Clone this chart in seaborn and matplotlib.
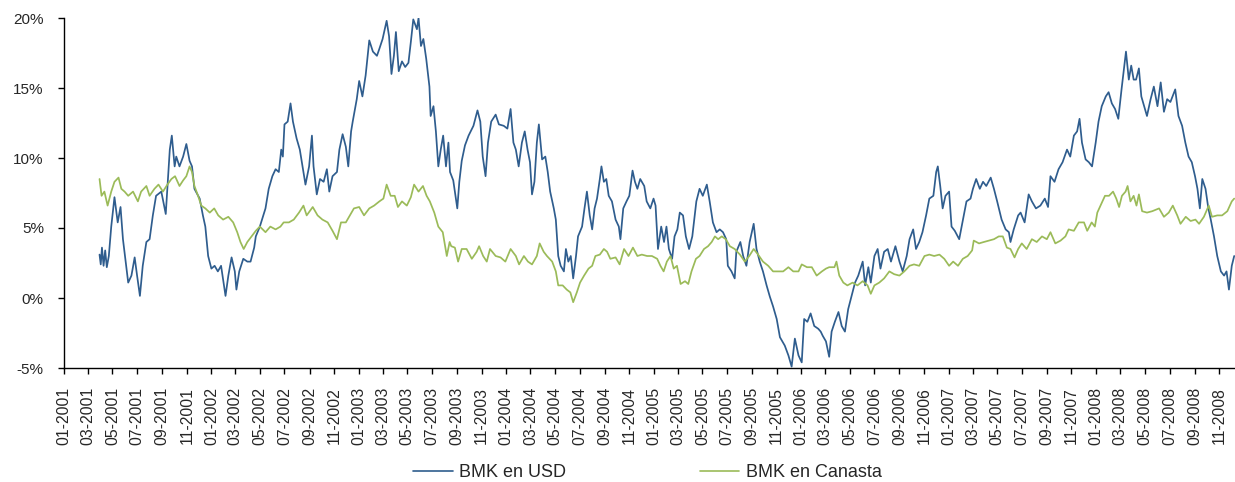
import pandas as pd
import numpy as np
import seaborn as sns
import matplotlib.pyplot as plt
import matplotlib.dates as mdates
from matplotlib.ticker import FuncFormatter

# colors
colors = {'BLUE': '#2F5D8E', 'GREEN': '#9BBB59', 'BLACK': '#000000'}

# series: (date, % value)
usd = [
    ('2001-03-30', 3.1), ('2001-04-02', 2.4), ('2001-04-05', 3.6), ('2001-04-09', 2.3),
    ('2001-04-13', 3.4), ('2001-04-17', 2.2), ('2001-04-22', 3.0), ('2001-04-28', 5.1),
    ('2001-05-06', 7.2), ('2001-05-14', 5.4), ('2001-05-21', 6.5), ('2001-05-27', 4.2),
    ('2001-06-01', 3.0), ('2001-06-09', 1.1), ('2001-06-17', 1.6), ('2001-06-25', 2.9),
    ('2001-07-01', 1.6), ('2001-07-08', 0.15), ('2001-07-15', 2.3), ('2001-07-24', 4.0),
    ('2001-08-01', 4.2), ('2001-08-09', 5.9), ('2001-08-17', 7.3), ('2001-08-30', 7.6),
    ('2001-09-10', 6.0), ('2001-09-15', 8.3), ('2001-09-20', 10.6), ('2001-09-25', 11.6),
    ('2001-10-02', 9.4), ('2001-10-06', 10.1), ('2001-10-14', 9.4), ('2001-10-23', 10.1),
    ('2001-10-31', 11.0), ('2001-11-08', 9.8), ('2001-11-14', 9.4), ('2001-11-20', 7.8),
    ('2001-12-03', 7.1), ('2001-12-11', 5.9), ('2001-12-17', 5.1), ('2001-12-24', 3.0),
    ('2002-01-01', 2.1), ('2002-01-09', 2.3), ('2002-01-17', 1.9), ('2002-01-25', 2.3),
    ('2002-02-05', 0.15), ('2002-02-12', 1.6), ('2002-02-20', 2.9), ('2002-02-28', 1.9),
    ('2002-03-04', 0.6), ('2002-03-11', 1.9), ('2002-03-21', 2.8), ('2002-03-31', 2.6),
    ('2002-04-08', 2.6), ('2002-04-17', 3.6), ('2002-04-21', 4.4), ('2002-05-01', 5.1),
    ('2002-05-15', 6.4), ('2002-05-23', 7.8), ('2002-06-01', 8.7), ('2002-06-09', 9.2),
    ('2002-06-17', 9.0), ('2002-06-23', 10.6), ('2002-06-27', 10.1), ('2002-07-01', 12.4),
    ('2002-07-09', 12.6), ('2002-07-16', 13.9), ('2002-07-22', 12.6), ('2002-07-31', 11.4),
    ('2002-08-08', 10.6), ('2002-08-17', 9.0), ('2002-08-22', 8.1), ('2002-08-31', 9.4),
    ('2002-09-07', 11.6), ('2002-09-11', 9.4), ('2002-09-19', 7.4), ('2002-09-27', 8.5),
    ('2002-10-06', 8.3), ('2002-10-14', 9.2), ('2002-10-20', 7.6), ('2002-10-28', 8.7),
    ('2002-11-08', 9.0), ('2002-11-14', 10.6), ('2002-11-22', 11.7), ('2002-11-30', 10.8),
    ('2002-12-06', 9.4), ('2002-12-13', 11.9), ('2002-12-17', 12.6), ('2002-12-27', 14.2),
    ('2003-01-02', 15.5), ('2003-01-10', 14.4), ('2003-01-18', 15.9), ('2003-01-27', 18.4),
    ('2003-02-05', 17.6), ('2003-02-15', 17.3), ('2003-02-21', 17.8), ('2003-03-01', 18.5),
    ('2003-03-11', 19.8), ('2003-03-17', 18.7), ('2003-03-23', 16.0), ('2003-03-29', 17.3),
    ('2003-04-03', 19.0), ('2003-04-10', 16.2), ('2003-04-18', 16.9), ('2003-04-26', 16.5),
    ('2003-05-04', 16.8), ('2003-05-10', 18.3), ('2003-05-16', 19.9), ('2003-05-25', 19.2),
    ('2003-05-29', 20.0), ('2003-06-04', 18.0), ('2003-06-10', 18.5), ('2003-06-17', 17.1),
    ('2003-06-25', 15.1), ('2003-06-28', 13.0), ('2003-07-05', 13.7), ('2003-07-11', 11.9),
    ('2003-07-17', 9.4), ('2003-07-23', 10.6), ('2003-07-29', 11.6), ('2003-08-05', 9.4),
    ('2003-08-11', 11.1), ('2003-08-15', 9.0), ('2003-08-23', 8.4), ('2003-09-02', 6.4),
    ('2003-09-07', 8.3), ('2003-09-13', 9.8), ('2003-09-21', 10.9), ('2003-09-30', 11.6),
    ('2003-10-12', 12.3), ('2003-10-22', 13.4), ('2003-10-29', 12.6), ('2003-11-04', 10.1),
    ('2003-11-11', 8.7), ('2003-11-17', 11.1), ('2003-11-25', 12.6), ('2003-12-06', 13.1),
    ('2003-12-14', 12.4), ('2003-12-26', 12.3), ('2004-01-04', 12.1), ('2004-01-12', 13.5),
    ('2004-01-19', 11.1), ('2004-01-25', 10.6), ('2004-02-01', 9.4), ('2004-02-09', 11.1),
    ('2004-02-16', 11.9), ('2004-02-23', 10.6), ('2004-02-29', 9.7), ('2004-03-05', 7.4),
    ('2004-03-11', 8.3), ('2004-03-17', 11.1), ('2004-03-22', 12.4), ('2004-03-30', 9.9),
    ('2004-04-07', 10.1), ('2004-04-13', 9.0), ('2004-04-19', 7.6), ('2004-04-28', 6.4),
    ('2004-05-03', 5.6), ('2004-05-09', 3.0), ('2004-05-15', 2.3), ('2004-05-23', 1.9),
    ('2004-05-28', 3.5), ('2004-06-03', 2.6), ('2004-06-09', 3.0), ('2004-06-15', 1.4),
    ('2004-06-22', 3.0), ('2004-06-27', 4.4), ('2004-07-07', 5.1), ('2004-07-13', 6.4),
    ('2004-07-19', 7.6), ('2004-07-26', 5.9), ('2004-08-01', 4.9), ('2004-08-07', 6.4),
    ('2004-08-13', 7.1), ('2004-08-20', 8.5), ('2004-08-24', 9.4), ('2004-08-30', 8.3),
    ('2004-09-05', 8.5), ('2004-09-11', 7.3), ('2004-09-19', 6.9), ('2004-09-28', 5.6),
    ('2004-10-06', 5.1), ('2004-10-10', 4.2), ('2004-10-17', 6.4), ('2004-10-25', 6.9),
    ('2004-11-01', 7.3), ('2004-11-09', 9.1), ('2004-11-15', 8.3), ('2004-11-21', 7.8),
    ('2004-11-28', 8.5), ('2004-12-08', 8.0), ('2004-12-14', 6.9), ('2004-12-23', 6.4),
    ('2004-12-31', 7.1), ('2005-01-05', 6.6), ('2005-01-11', 3.5), ('2005-01-19', 5.1),
    ('2005-01-26', 4.0), ('2005-02-01', 5.1), ('2005-02-07', 3.5), ('2005-02-15', 2.8),
    ('2005-02-21', 4.4), ('2005-02-28', 4.9), ('2005-03-06', 6.1), ('2005-03-14', 5.9),
    ('2005-03-21', 4.4), ('2005-03-29', 3.5), ('2005-04-06', 4.4), ('2005-04-16', 6.9),
    ('2005-04-24', 7.8), ('2005-05-02', 7.3), ('2005-05-12', 8.1), ('2005-05-19', 6.9),
    ('2005-05-27', 5.4), ('2005-06-05', 4.7), ('2005-06-13', 4.9), ('2005-06-21', 4.7),
    ('2005-06-29', 4.2), ('2005-07-03', 2.3), ('2005-07-12', 1.9), ('2005-07-20', 1.4),
    ('2005-07-24', 3.3), ('2005-08-03', 4.0), ('2005-08-10', 3.0), ('2005-08-18', 2.3),
    ('2005-08-26', 4.0), ('2005-09-05', 5.3), ('2005-09-12', 3.5), ('2005-09-20', 2.6),
    ('2005-09-28', 1.9), ('2005-10-07', 0.9), ('2005-10-15', 0.1), ('2005-10-23', -0.6),
    ('2005-11-01', -1.5), ('2005-11-09', -2.8), ('2005-11-21', -3.4), ('2005-11-30', -4.1),
    ('2005-12-08', -4.9), ('2005-12-16', -2.9), ('2005-12-25', -4.1), ('2006-01-02', -4.6),
    ('2006-01-08', -1.5), ('2006-01-16', -1.7), ('2006-01-24', -1.1), ('2006-02-02', -2.0),
    ('2006-02-12', -2.2), ('2006-02-18', -2.4), ('2006-02-23', -2.7), ('2006-03-03', -3.1),
    ('2006-03-11', -4.2), ('2006-03-17', -2.4), ('2006-03-25', -1.7), ('2006-04-03', -1.0),
    ('2006-04-11', -2.0), ('2006-04-19', -2.4), ('2006-04-27', -0.8), ('2006-05-06', 0.2),
    ('2006-05-14', 1.1), ('2006-05-22', 1.6), ('2006-06-02', 2.6), ('2006-06-08', 0.9),
    ('2006-06-16', 2.2), ('2006-06-22', 1.1), ('2006-07-01', 3.0), ('2006-07-09', 3.5),
    ('2006-07-16', 2.1), ('2006-07-25', 3.3), ('2006-08-03', 3.5), ('2006-08-11', 2.6),
    ('2006-08-22', 3.7), ('2006-09-01', 2.6), ('2006-09-09', 1.9), ('2006-09-19', 3.0),
    ('2006-09-26', 4.2), ('2006-10-05', 4.9), ('2006-10-12', 3.5), ('2006-10-20', 4.0),
    ('2006-10-28', 4.7), ('2006-11-06', 5.9), ('2006-11-14', 7.1), ('2006-11-24', 7.3),
    ('2006-12-01', 9.0), ('2006-12-05', 9.4), ('2006-12-11', 8.0), ('2006-12-17', 6.4),
    ('2006-12-24', 7.3), ('2007-01-02', 7.6), ('2007-01-08', 5.1), ('2007-01-16', 4.8),
    ('2007-01-27', 4.2), ('2007-02-04', 5.4), ('2007-02-14', 6.9), ('2007-02-24', 7.1),
    ('2007-03-02', 7.8), ('2007-03-10', 8.5), ('2007-03-19', 7.8), ('2007-03-27', 8.3),
    ('2007-04-04', 8.0), ('2007-04-15', 8.6), ('2007-04-23', 7.8), ('2007-05-01', 6.9),
    ('2007-05-12', 5.6), ('2007-05-22', 4.9), ('2007-05-30', 4.7), ('2007-06-03', 4.0),
    ('2007-06-11', 4.9), ('2007-06-22', 5.9), ('2007-06-28', 6.1), ('2007-07-08', 5.4),
    ('2007-07-18', 7.4), ('2007-07-26', 6.9), ('2007-08-05', 6.4), ('2007-08-16', 6.6),
    ('2007-08-27', 7.1), ('2007-09-04', 6.5), ('2007-09-10', 8.7), ('2007-09-20', 8.3),
    ('2007-09-30', 9.2), ('2007-10-10', 9.7), ('2007-10-21', 10.6), ('2007-10-29', 10.1),
    ('2007-11-07', 11.6), ('2007-11-15', 11.9), ('2007-11-21', 12.8), ('2007-11-27', 11.1),
    ('2007-12-06', 9.9), ('2007-12-14', 9.7), ('2007-12-22', 9.4), ('2007-12-31', 11.1),
    ('2008-01-07', 12.6), ('2008-01-15', 13.7), ('2008-01-25', 14.4), ('2008-02-01', 14.7),
    ('2008-02-09', 13.9), ('2008-02-17', 13.5), ('2008-02-25', 12.8), ('2008-03-04', 14.9),
    ('2008-03-09', 16.1), ('2008-03-15', 17.6), ('2008-03-22', 15.6), ('2008-03-28', 16.6),
    ('2008-04-03', 15.6), ('2008-04-09', 15.6), ('2008-04-16', 16.4), ('2008-04-22', 14.4),
    ('2008-05-01', 13.5), ('2008-05-06', 13.0), ('2008-05-15', 14.2), ('2008-05-23', 15.1),
    ('2008-06-01', 13.7), ('2008-06-09', 15.4), ('2008-06-17', 13.3), ('2008-06-25', 14.2),
    ('2008-07-03', 14.0), ('2008-07-15', 14.9), ('2008-07-23', 13.0), ('2008-08-01', 12.3),
    ('2008-08-09', 11.1), ('2008-08-17', 10.1), ('2008-08-25', 9.7), ('2008-09-02', 8.7),
    ('2008-09-08', 7.8), ('2008-09-14', 6.4), ('2008-09-20', 8.5), ('2008-09-28', 7.8),
    ('2008-10-05', 6.4), ('2008-10-11', 5.6), ('2008-10-19', 4.4), ('2008-10-27', 3.0),
    ('2008-11-05', 1.9), ('2008-11-13', 1.6), ('2008-11-19', 1.9), ('2008-11-25', 0.6),
    ('2008-12-02', 2.3), ('2008-12-08', 3.0),
]

canasta = [
    ('2001-03-30', 8.5), ('2001-04-04', 7.3), ('2001-04-11', 7.6), ('2001-04-19', 6.6),
    ('2001-04-28', 7.6), ('2001-05-06', 8.3), ('2001-05-16', 8.6), ('2001-05-23', 7.8),
    ('2001-05-31', 7.6), ('2001-06-09', 7.3), ('2001-06-21', 7.6), ('2001-07-03', 6.9),
    ('2001-07-11', 7.6), ('2001-07-24', 8.0), ('2001-08-01', 7.3), ('2001-08-13', 7.8),
    ('2001-08-23', 8.1), ('2001-09-03', 7.6), ('2001-09-14', 8.1), ('2001-09-24', 8.5),
    ('2001-10-03', 8.7), ('2001-10-14', 8.0), ('2001-10-23', 8.4), ('2001-10-31', 8.7),
    ('2001-11-08', 9.4), ('2001-11-14', 9.0), ('2001-11-20', 8.0), ('2001-11-29', 7.3),
    ('2001-12-07', 6.6), ('2001-12-17', 6.4), ('2001-12-28', 6.1), ('2002-01-08', 6.4),
    ('2002-01-18', 5.9), ('2002-01-30', 5.6), ('2002-02-12', 5.8), ('2002-02-24', 5.4),
    ('2002-03-06', 4.7), ('2002-03-14', 4.0), ('2002-03-22', 3.5), ('2002-03-31', 4.0),
    ('2002-04-08', 4.3), ('2002-04-21', 4.8), ('2002-05-01', 5.1), ('2002-05-15', 4.7),
    ('2002-05-27', 5.1), ('2002-06-09', 4.9), ('2002-06-21', 5.1), ('2002-06-29', 5.4),
    ('2002-07-12', 5.4), ('2002-07-24', 5.6), ('2002-08-06', 6.1), ('2002-08-17', 6.6),
    ('2002-08-25', 5.9), ('2002-09-09', 6.5), ('2002-09-21', 5.9), ('2002-10-03', 5.6),
    ('2002-10-16', 5.4), ('2002-10-28', 4.8), ('2002-11-08', 4.2), ('2002-11-18', 5.4),
    ('2002-11-30', 5.4), ('2002-12-10', 5.9), ('2002-12-20', 6.4), ('2003-01-02', 6.5),
    ('2003-01-14', 5.9), ('2003-01-27', 6.4), ('2003-02-08', 6.6), ('2003-02-21', 6.9),
    ('2003-03-03', 7.1), ('2003-03-11', 8.1), ('2003-03-21', 7.3), ('2003-03-31', 7.3),
    ('2003-04-08', 6.5), ('2003-04-18', 6.9), ('2003-04-30', 6.6), ('2003-05-10', 7.2),
    ('2003-05-18', 8.1), ('2003-05-29', 7.6), ('2003-06-09', 8.0), ('2003-06-18', 7.3),
    ('2003-06-26', 6.9), ('2003-07-07', 6.1), ('2003-07-17', 5.1), ('2003-07-28', 4.7),
    ('2003-08-07', 3.0), ('2003-08-14', 4.0), ('2003-08-18', 3.7), ('2003-08-27', 3.6),
    ('2003-09-04', 2.6), ('2003-09-13', 3.5), ('2003-09-25', 3.5), ('2003-10-08', 2.8),
    ('2003-10-20', 3.3), ('2003-10-26', 3.7), ('2003-11-05', 3.0), ('2003-11-14', 2.6),
    ('2003-11-22', 3.5), ('2003-12-06', 3.0), ('2003-12-18', 2.9), ('2003-12-30', 2.6),
    ('2004-01-12', 3.5), ('2004-01-25', 3.0), ('2004-02-02', 2.4), ('2004-02-14', 3.0),
    ('2004-02-24', 2.6), ('2004-03-05', 2.4), ('2004-03-17', 3.0), ('2004-03-24', 3.9),
    ('2004-04-03', 3.3), ('2004-04-11', 3.0), ('2004-04-24', 2.6), ('2004-05-03', 1.9),
    ('2004-05-09', 0.9), ('2004-05-20', 0.9), ('2004-05-30', 0.6), ('2004-06-08', 0.4),
    ('2004-06-15', -0.3), ('2004-06-24', 0.4), ('2004-07-02', 1.1), ('2004-07-12', 1.6),
    ('2004-07-23', 2.1), ('2004-08-01', 2.3), ('2004-08-09', 3.0), ('2004-08-20', 3.1),
    ('2004-08-30', 3.5), ('2004-09-07', 3.3), ('2004-09-15', 2.8), ('2004-09-28', 2.9),
    ('2004-10-08', 2.4), ('2004-10-19', 3.5), ('2004-10-30', 3.0), ('2004-11-10', 3.6),
    ('2004-11-21', 3.0), ('2004-12-02', 3.1), ('2004-12-15', 3.0), ('2004-12-27', 3.0),
    ('2005-01-09', 2.8), ('2005-01-17', 2.3), ('2005-01-25', 1.9), ('2005-02-02', 2.6),
    ('2005-02-11', 3.0), ('2005-02-19', 2.1), ('2005-02-27', 2.3), ('2005-03-08', 1.0),
    ('2005-03-19', 1.2), ('2005-03-27', 1.0), ('2005-04-04', 1.9), ('2005-04-15', 2.8),
    ('2005-04-24', 3.0), ('2005-05-05', 3.5), ('2005-05-15', 3.7), ('2005-05-24', 4.0),
    ('2005-06-01', 4.4), ('2005-06-09', 4.2), ('2005-06-18', 4.4), ('2005-06-28', 4.2),
    ('2005-07-08', 3.7), ('2005-07-20', 3.5), ('2005-08-02', 3.1), ('2005-08-14', 2.6),
    ('2005-08-25', 3.0), ('2005-09-05', 3.5), ('2005-09-16', 3.1), ('2005-09-28', 2.6),
    ('2005-10-11', 2.3), ('2005-10-23', 1.9), ('2005-11-05', 1.9), ('2005-11-17', 1.9),
    ('2005-11-30', 2.2), ('2005-12-12', 1.9), ('2005-12-25', 1.9), ('2006-01-02', 2.4),
    ('2006-01-15', 2.2), ('2006-01-27', 2.2), ('2006-02-08', 1.6), ('2006-02-21', 1.9),
    ('2006-03-03', 2.1), ('2006-03-11', 2.2), ('2006-03-24', 2.2), ('2006-03-29', 2.6),
    ('2006-04-05', 1.6), ('2006-04-15', 1.1), ('2006-04-25', 0.9), ('2006-05-08', 1.1),
    ('2006-05-20', 0.9), ('2006-06-02', 1.2), ('2006-06-14', 0.9), ('2006-06-22', 0.3),
    ('2006-07-01', 0.9), ('2006-07-13', 1.1), ('2006-07-25', 1.4), ('2006-08-07', 1.9),
    ('2006-08-19', 1.7), ('2006-09-01', 1.6), ('2006-09-13', 1.9), ('2006-09-26', 2.3),
    ('2006-10-07', 2.4), ('2006-10-20', 2.3), ('2006-11-02', 3.0), ('2006-11-14', 3.1),
    ('2006-11-26', 3.0), ('2006-12-09', 3.1), ('2006-12-21', 2.8), ('2007-01-02', 2.3),
    ('2007-01-12', 2.6), ('2007-01-24', 2.3), ('2007-02-05', 2.8), ('2007-02-17', 3.0),
    ('2007-02-28', 3.4), ('2007-03-04', 4.1), ('2007-03-17', 3.9), ('2007-03-29', 4.0),
    ('2007-04-11', 4.1), ('2007-04-23', 4.2), ('2007-05-05', 4.4), ('2007-05-15', 4.4),
    ('2007-05-25', 3.6), ('2007-06-03', 3.5), ('2007-06-13', 2.9), ('2007-06-22', 3.5),
    ('2007-07-01', 3.9), ('2007-07-13', 3.5), ('2007-07-26', 4.2), ('2007-08-07', 4.0),
    ('2007-08-20', 4.4), ('2007-09-01', 4.2), ('2007-09-10', 4.7), ('2007-09-22', 3.9),
    ('2007-10-05', 4.1), ('2007-10-17', 4.4), ('2007-10-25', 4.9), ('2007-11-07', 4.8),
    ('2007-11-19', 5.4), ('2007-12-02', 5.4), ('2007-12-10', 4.8), ('2007-12-21', 5.4),
    ('2007-12-29', 5.1), ('2008-01-04', 6.1), ('2008-01-12', 6.6), ('2008-01-23', 7.3),
    ('2008-02-02', 7.3), ('2008-02-12', 7.6), ('2008-02-20', 7.1), ('2008-02-27', 6.5),
    ('2008-03-05', 7.3), ('2008-03-14', 7.6), ('2008-03-19', 8.0), ('2008-03-26', 6.9),
    ('2008-04-03', 7.3), ('2008-04-10', 6.6), ('2008-04-16', 7.4), ('2008-04-24', 6.2),
    ('2008-05-06', 6.1), ('2008-05-19', 6.2), ('2008-06-05', 6.4), ('2008-06-17', 5.8),
    ('2008-06-29', 6.1), ('2008-07-09', 6.6), ('2008-07-20', 5.9), ('2008-07-28', 5.3),
    ('2008-08-10', 5.8), ('2008-08-22', 5.5), ('2008-09-03', 5.6), ('2008-09-12', 5.3),
    ('2008-09-24', 5.8), ('2008-10-06', 6.6), ('2008-10-14', 5.8), ('2008-10-27', 5.9),
    ('2008-11-08', 5.9), ('2008-11-21', 6.2), ('2008-12-02', 6.9), ('2008-12-08', 7.1),
]

series_names = ['BMK en USD', 'BMK en Canasta']
y_ticks = [-5, 0, 5, 10, 15, 20]
x_start, x_end = '2001-01-01', '2008-12-10'
x_ticks = pd.date_range('2001-01-01', '2008-11-01', freq='2MS')

frames = []
for name, rows in zip(series_names, [usd, canasta]):
    df = pd.DataFrame(rows, columns=['date', 'value'])
    df['date'] = pd.to_datetime(df['date'])
    df['serie'] = name
    frames.append(df)
data = pd.concat(frames, ignore_index=True)

sns.set_style('white')
plt.rcParams['font.family'] = ['Liberation Sans', 'DejaVu Sans']

fig = plt.figure(figsize=(12.35, 4.82), dpi=100)
ax = fig.add_axes([64 / 1235, 1 - 368 / 482, 1 - 64 / 1235, 350 / 482])

sns.lineplot(data=data, x='date', y='value', hue='serie', ax=ax,
             palette=[colors['BLUE'], colors['GREEN']], linewidth=1.25,
             estimator=None, sort=False, legend=False)

ax.set_xlim(pd.Timestamp(x_start), pd.Timestamp(x_end))
ax.set_ylim(y_ticks[0], y_ticks[-1])
ax.set_yticks(y_ticks)
ax.yaxis.set_major_formatter(FuncFormatter(lambda v, p: '{:.0f}%'.format(v)))
ax.set_xticks(x_ticks)
ax.xaxis.set_major_formatter(mdates.DateFormatter('%m-%Y'))
ax.set_xlabel('')
ax.set_ylabel('')

for side in ['top', 'right']:
    ax.spines[side].set_visible(False)
for side in ['left', 'bottom']:
    ax.spines[side].set_color(colors['BLACK'])
    ax.spines[side].set_linewidth(1.0)

ax.tick_params(axis='y', direction='out', length=4.5, width=1, color='black',
               labelsize=11, pad=10, left=True)
ax.tick_params(axis='x', direction='out', length=4.5, width=1, color='black',
               labelsize=11.3, pad=9, labelrotation=90, bottom=True)
for lab in ax.get_xticklabels():
    lab.set_horizontalalignment('center')

handles = [plt.Line2D([], [], color=colors['BLUE'], lw=1.2),
           plt.Line2D([], [], color=colors['GREEN'], lw=1.2)]
fig.legend(handles, series_names, loc='center', bbox_to_anchor=(0.524, 0.02),
           ncol=2, frameon=False, fontsize=13, handlelength=2.2,
           handletextpad=0.35, columnspacing=7.4)

fig.savefig('out.png', dpi=100)
